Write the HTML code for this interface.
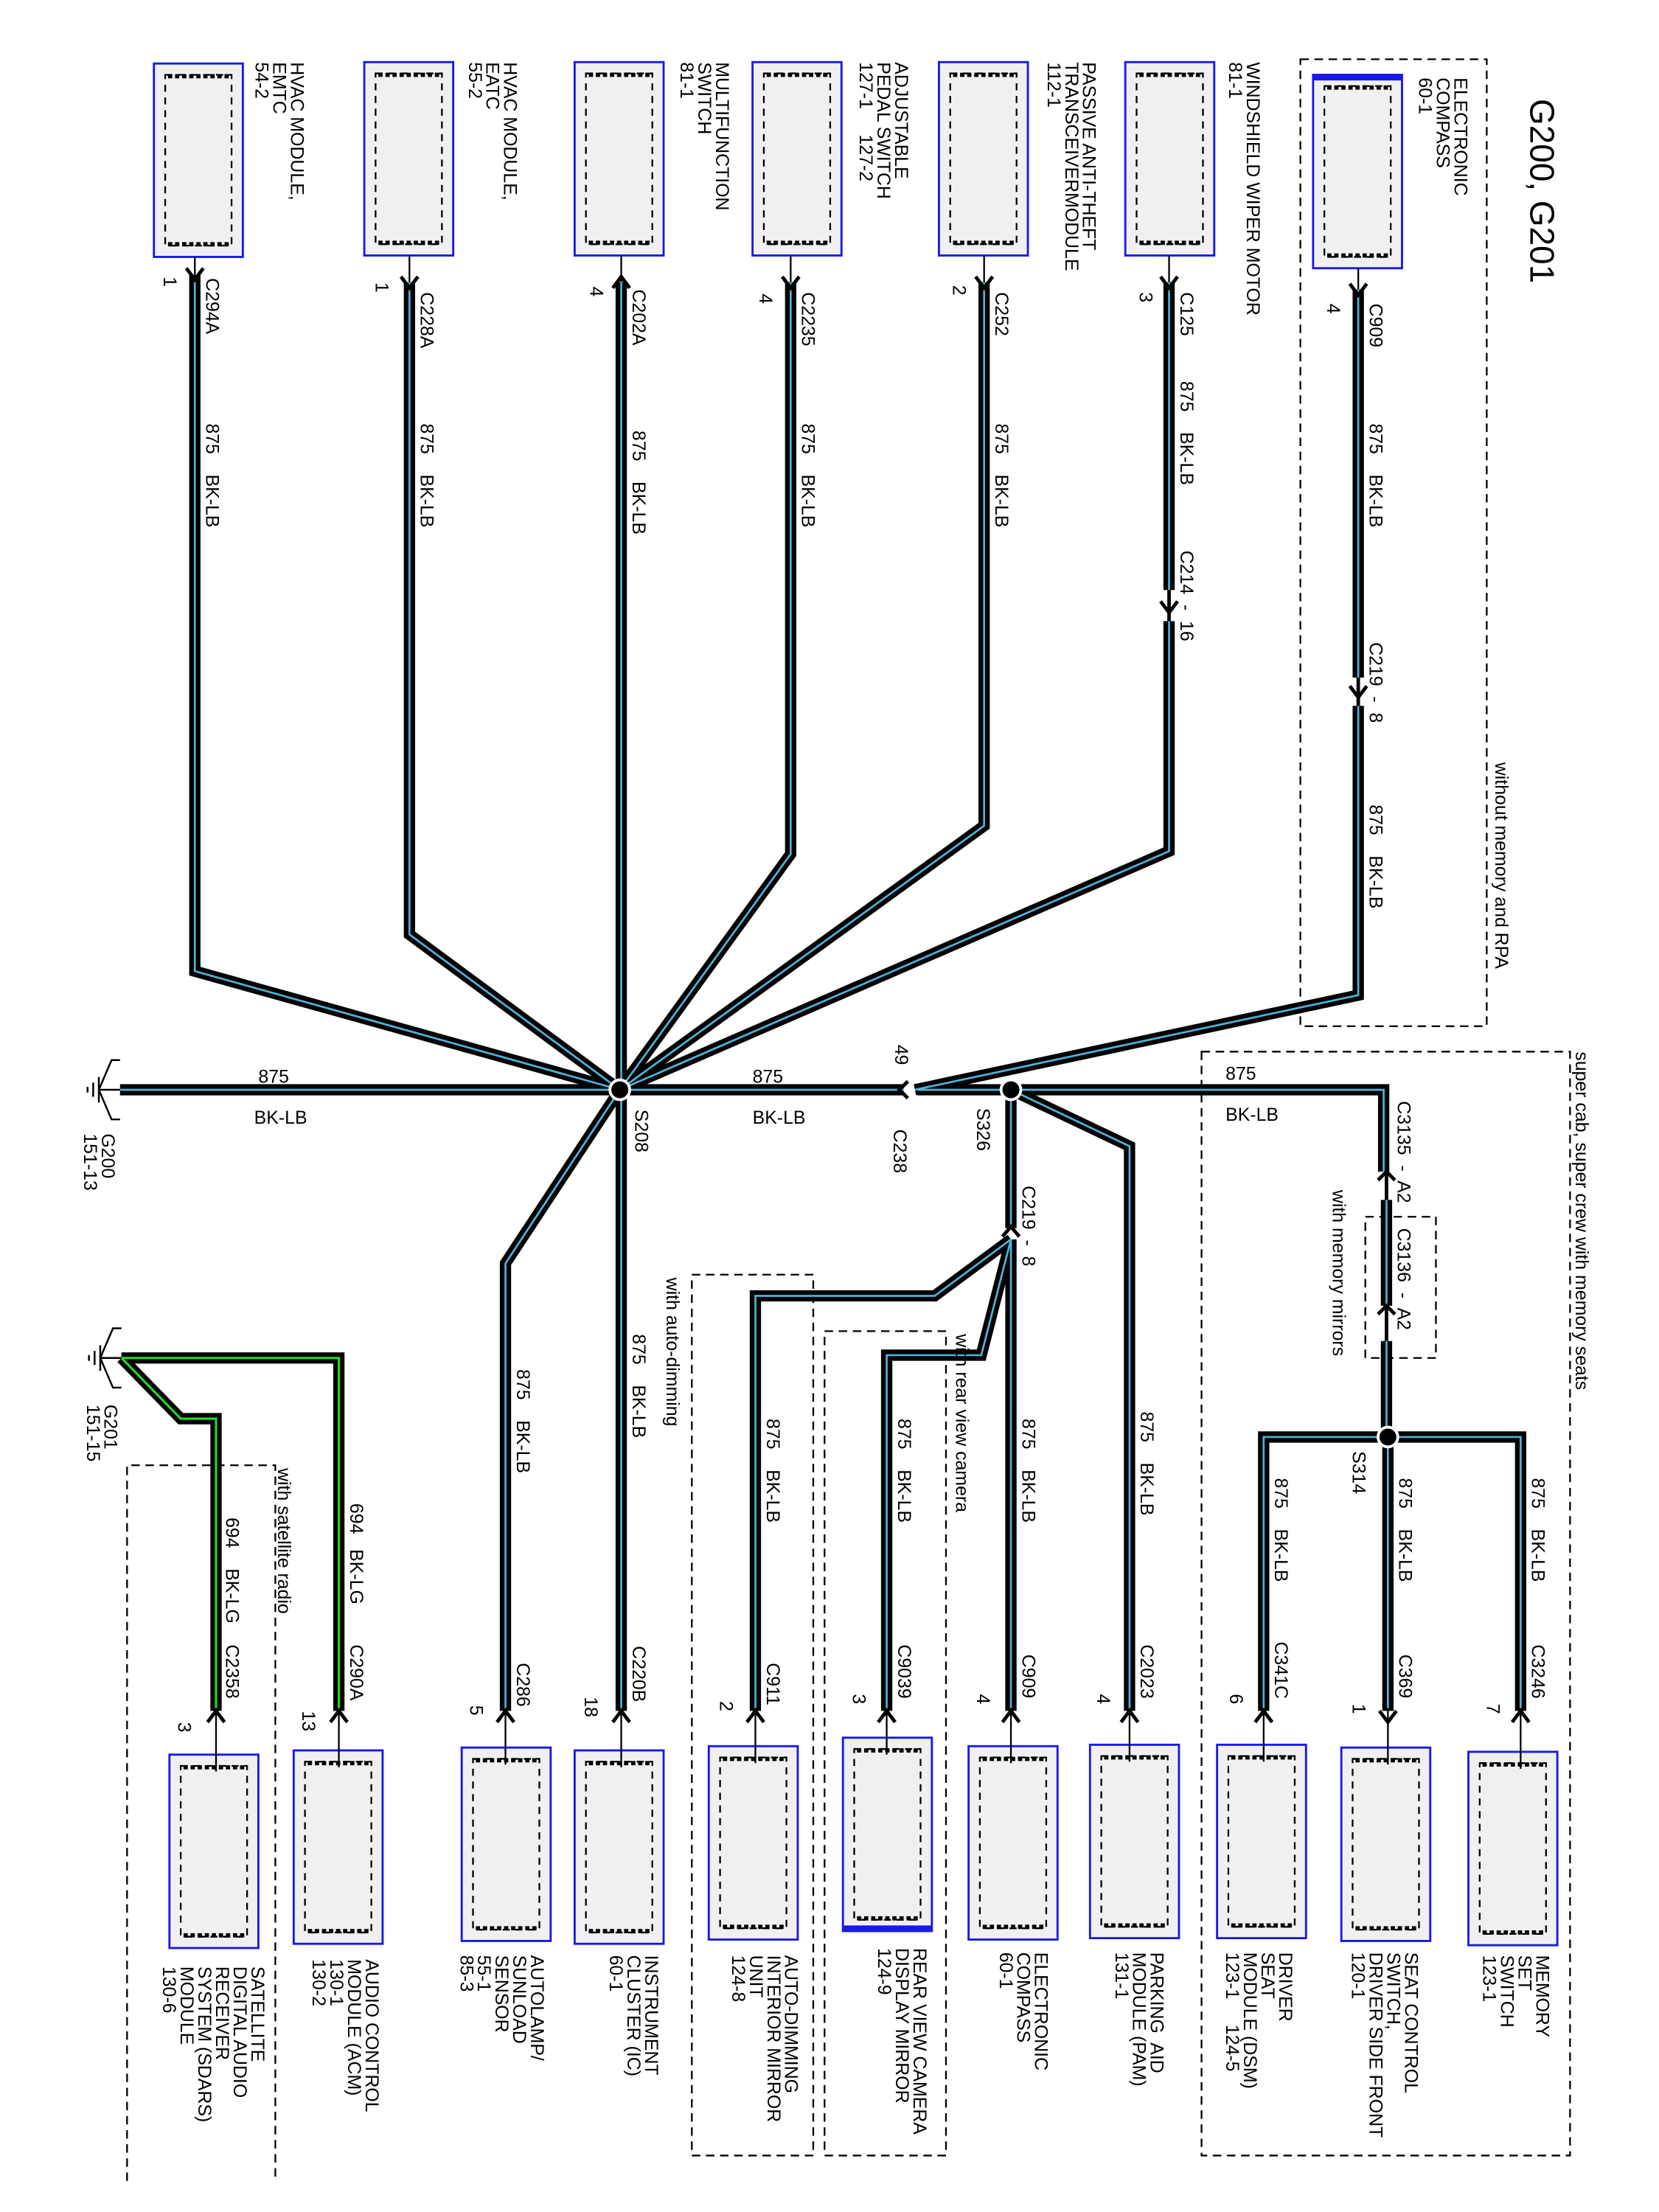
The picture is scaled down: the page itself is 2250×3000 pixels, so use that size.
<!DOCTYPE html>
<html><head><meta charset="utf-8"><style>
html,body{margin:0;padding:0;background:#fff;}
svg{display:block;}
text{font-family:"Liberation Sans",sans-serif;fill:#000;white-space:pre;}
</style></head><body>
<svg width="2250" height="3000" viewBox="0 0 1175 1567" preserveAspectRatio="none" xmlns="http://www.w3.org/2000/svg" xml:space="preserve">
<defs>
<g id="box"><rect x="0" y="0" width="63" height="137" fill="#f0f0f0" stroke="#1a1ae6" stroke-width="1.5"/><rect x="8" y="8" width="47" height="121" fill="none" stroke="#000" stroke-width="1.2" stroke-dasharray="5,4"/><path d="M10 9 H53 M10 128 H53" stroke="#000" stroke-width="3" stroke-dasharray="3,2"/></g>
</defs>
<rect width="1175" height="1567" fill="#fff"/>

<g fill="none" stroke="#000" stroke-width="1.2" stroke-dasharray="6,4">
<rect x="921" y="42" width="132" height="685"/>
<rect x="851" y="745" width="261" height="782"/>
<rect x="967" y="862" width="50" height="100"/>
<rect x="490" y="903" width="86" height="624"/>
<rect x="584" y="943" width="86" height="584"/>
<path d="M90 1545 V1038 H195 V1545"/>
</g>

<g fill="none" stroke-linejoin="miter">
<g stroke="#000" stroke-width="8">
<path d="M138 195 V688 L439 772"/>
<path d="M290 200 V662 L439 772"/>
<path d="M440 200 V772"/>
<path d="M560 200 V605 L439 772"/>
<path d="M697 200 V585 L439 772"/>
<path d="M828 200 V418 M828 440 V603 L439 772"/>
<path d="M962 205 V480 M962 500 V705 L648 772"/>
<path d="M85 772 H640"/>
<path d="M650 772 H980 V830"/>
<path d="M982 850 V925 M982 950 V1018"/>
<path d="M716 772 V870"/>
<path d="M716 772 L800 812 V1212"/>
<path d="M716 878 V1212"/>
<path d="M716 878 L662 918 H535 V1212"/>
<path d="M716 878 L695 960 H628 V1212"/>
<path d="M439 772 L358 895 V1212"/>
<path d="M440 772 V1212"/>
<path d="M983 1018 H895 V1212"/>
<path d="M983 1018 H1077 V1212"/>
<path d="M983 1018 V1212"/>
<path d="M86 962 H240 V1212"/>
<path d="M86 962 L128 1005 H153 V1212"/>
</g>
<g stroke="#4fb3d9" stroke-width="1.4">
<path d="M138 195 V688 L439 772"/>
<path d="M290 200 V662 L439 772"/>
<path d="M440 200 V772"/>
<path d="M560 200 V605 L439 772"/>
<path d="M697 200 V585 L439 772"/>
<path d="M828 200 V418 M828 440 V603 L439 772"/>
<path d="M962 205 V480 M962 500 V705 L648 772"/>
<path d="M85 772 H640"/>
<path d="M650 772 H980 V830"/>
<path d="M982 850 V925 M982 950 V1018"/>
<path d="M716 772 V870"/>
<path d="M716 772 L800 812 V1212"/>
<path d="M716 878 V1212"/>
<path d="M716 878 L662 918 H535 V1212"/>
<path d="M716 878 L695 960 H628 V1212"/>
<path d="M439 772 L358 895 V1212"/>
<path d="M440 772 V1212"/>
<path d="M983 1018 H895 V1212"/>
<path d="M983 1018 H1077 V1212"/>
<path d="M983 1018 V1212"/>
</g>
<g stroke="#22dd22" stroke-width="1.6">
<path d="M86 962 H240 V1212"/>
<path d="M86 962 L128 1005 H153 V1212"/>
</g>
</g>

<g fill="#000" stroke="#fff" stroke-width="2">
<circle cx="439" cy="772" r="7"/>
<circle cx="716" cy="772" r="7"/>
<circle cx="983" cy="1018" r="7"/>
</g>

<use href="#box" x="109" y="45"/>
<use href="#box" x="258" y="44"/>
<use href="#box" x="407" y="44"/>
<use href="#box" x="533" y="44"/>
<use href="#box" x="665" y="44"/>
<use href="#box" x="797" y="44"/>
<use href="#box" x="930" y="53"/>
<rect x="930" y="53" width="63" height="4" fill="#1a1ae6"/>

<g stroke="#000" stroke-width="1.2" fill="none">
<path d="M138 182 V200 M290 181 V200 M440 181 V200 M560 181 V200 M697 181 V200 M828 181 V200 M962 190 V205"/>
</g>
<g stroke="#000" stroke-width="2.5" fill="none">
<path d="M132 190 L138 198 L144 190"/>
<path d="M284 196 L290 204 L296 196"/>
<path d="M434 204 L440 196 L446 204"/>
<path d="M554 196 L560 204 L566 196"/>
<path d="M691 196 L697 204 L703 196"/>
<path d="M822 196 L828 204 L834 196"/>
<path d="M956 201 L962 209 L968 201"/>
<path d="M822 426 L828 434 L834 426 M828 418 V440"/>
<path d="M956 486 L962 494 L968 486 M962 480 V500"/>
<path d="M643 766 L637 772 L643 778"/>
<path d="M710 876 L716 869 L722 876"/>
<path d="M976 836 L982 830 L988 836 M982 830 V850"/>
<path d="M976 931 L982 925 L988 931 M982 925 V950"/>
</g>

<use href="#box" x="120" y="1243"/>
<use href="#box" x="208" y="1240"/>
<use href="#box" x="327" y="1238"/>
<use href="#box" x="407" y="1240"/>
<use href="#box" x="502" y="1237"/>
<use href="#box" x="597" y="1231"/>
<rect x="597" y="1364" width="63" height="4" fill="#1a1ae6"/>
<use href="#box" x="686" y="1237"/>
<use href="#box" x="772" y="1236"/>
<use href="#box" x="862" y="1236"/>
<use href="#box" x="950" y="1238"/>
<use href="#box" x="1040" y="1241"/>
<g stroke="#000" stroke-width="1.2" fill="none">
<path d="M153 1210 V1255 M240 1210 V1252 M358 1210 V1250 M440 1210 V1252 M535 1210 V1249 M628 1210 V1243 M716 1210 V1249 M800 1210 V1248 M895 1210 V1248 M983 1210 V1250 M1077 1210 V1253"/>
</g>
<g stroke="#000" stroke-width="2.5" fill="none">
<path d="M147 1220 L153 1212 L159 1220 M234 1220 L240 1212 L246 1220 M352 1220 L358 1212 L364 1220 M434 1220 L440 1212 L446 1220 M529 1220 L535 1212 L541 1220 M622 1220 L628 1212 L634 1220 M710 1220 L716 1212 L722 1220 M794 1220 L800 1212 L806 1220 M889 1220 L895 1212 L901 1220 M977 1212 L983 1220 L989 1212 M1071 1220 L1077 1212 L1083 1220"/>
</g>

<g stroke="#000" stroke-width="1.3" fill="none">
<path d="M85 772 H70 M70 763 V781 M66 767 V777 M62 770 V774 M85 751 H79 L70 772 L79 793 H85"/>
<path d="M86 962 H71 M71 953 V971 M67 957 V967 M63 960 V964 M86 941 H80 L71 962 L80 983 H86"/>
</g>

<text transform="translate(1084,70) rotate(90)" font-size="24">G200, G201</text>

<g font-size="13">
<text transform="translate(206,44) rotate(90)"><tspan x="0" y="0">HVAC MODULE,</tspan><tspan x="0" dy="12.5">EMTC</tspan><tspan x="0" dy="12.5">54-2</tspan></text>
<text transform="translate(357,44) rotate(90)"><tspan x="0" y="0">HVAC MODULE,</tspan><tspan x="0" dy="12.5">EATC</tspan><tspan x="0" dy="12.5">55-2</tspan></text>
<text transform="translate(507,44) rotate(90)"><tspan x="0" y="0">MULTIFUNCTION</tspan><tspan x="0" dy="12.5">SWITCH</tspan><tspan x="0" dy="12.5">81-1</tspan></text>
<text transform="translate(634,44) rotate(90)"><tspan x="0" y="0">ADJUSTABLE</tspan><tspan x="0" dy="12.5">PEDAL SWITCH</tspan><tspan x="0" dy="12.5">127-1     127-2</tspan></text>
<text transform="translate(767,44) rotate(90)"><tspan x="0" y="0">PASSIVE ANTI-THEFT</tspan><tspan x="0" dy="12.5">TRANSCEIVERMODULE</tspan><tspan x="0" dy="12.5">112-1</tspan></text>
<text transform="translate(883,44) rotate(90)"><tspan x="0" y="0">WINDSHIELD WIPER MOTOR</tspan><tspan x="0" dy="12.5">81-1</tspan></text>
<text transform="translate(1030,55) rotate(90)"><tspan x="0" y="0">ELECTRONIC</tspan><tspan x="0" dy="12.5">COMPASS</tspan><tspan x="0" dy="12.5">60-1</tspan></text>

<text transform="translate(146,197) rotate(90)">C294A</text>
<text transform="translate(146,300) rotate(90)">875    BK-LB</text>
<text transform="translate(298,207) rotate(90)">C228A</text>
<text transform="translate(298,300) rotate(90)">875    BK-LB</text>
<text transform="translate(448,205) rotate(90)">C202A</text>
<text transform="translate(448,305) rotate(90)">875    BK-LB</text>
<text transform="translate(568,207) rotate(90)">C2235</text>
<text transform="translate(568,300) rotate(90)">875    BK-LB</text>
<text transform="translate(705,207) rotate(90)">C252</text>
<text transform="translate(705,300) rotate(90)">875    BK-LB</text>
<text transform="translate(836,207) rotate(90)">C125</text>
<text transform="translate(836,270) rotate(90)">875    BK-LB</text>
<text transform="translate(836,390) rotate(90)">C214  -  16</text>
<text transform="translate(970,215) rotate(90)">C909</text>
<text transform="translate(970,300) rotate(90)">875    BK-LB</text>
<text transform="translate(970,455) rotate(90)">C219  -  8</text>
<text transform="translate(970,570) rotate(90)">875    BK-LB</text>
<text transform="translate(1059,540) rotate(90)">without memory and RPA</text>
<text transform="translate(1116,745) rotate(90)">super cab, super crew with memory seats</text>
<text transform="translate(944,843) rotate(90)">with memory mirrors</text>
<text transform="translate(990,780) rotate(90)">C3135  -  A2</text>
<text transform="translate(990,870) rotate(90)">C3136  -  A2</text>
<text transform="translate(724,840) rotate(90)">C219  -  8</text>
<text transform="translate(633,800) rotate(90)">C238</text>
<text transform="translate(634,740) rotate(90)">49</text>
<text transform="translate(450,786) rotate(90)">S208</text>
<text transform="translate(692,785) rotate(90)">S326</text>
<text transform="translate(958,1028) rotate(90)">S314</text>
<text transform="translate(472,905) rotate(90)">with auto-dimming</text>
<text transform="translate(677,945) rotate(90)">with rear view camera</text>
<text transform="translate(197,1040) rotate(90)">with satellite radio</text>
<text transform="translate(72,803) rotate(90)"><tspan x="0" y="0">G200</tspan><tspan x="0" dy="12.5">151-13</tspan></text>
<text transform="translate(74,995) rotate(90)"><tspan x="0" y="0">G201</tspan><tspan x="0" dy="12.5">151-15</tspan></text>

<text transform="translate(116,196) rotate(90)">1</text>
<text transform="translate(266,200) rotate(90)">1</text>
<text transform="translate(418,203) rotate(90)">4</text>
<text transform="translate(538,208) rotate(90)">4</text>
<text transform="translate(675,202) rotate(90)">2</text>
<text transform="translate(807,207) rotate(90)">3</text>
<text transform="translate(940,215) rotate(90)">4</text>

<text transform="translate(160,1075) rotate(90)">694    BK-LG</text>
<text transform="translate(160,1165) rotate(90)">C2358</text>
<text transform="translate(248,1065) rotate(90)">694   BK-LG</text>
<text transform="translate(248,1165) rotate(90)">C290A</text>
<text transform="translate(366,970) rotate(90)">875    BK-LB</text>
<text transform="translate(366,1178) rotate(90)">C286</text>
<text transform="translate(448,945) rotate(90)">875    BK-LB</text>
<text transform="translate(448,1166) rotate(90)">C220B</text>
<text transform="translate(543,1005) rotate(90)">875    BK-LB</text>
<text transform="translate(543,1178) rotate(90)">C911</text>
<text transform="translate(636,1005) rotate(90)">875    BK-LB</text>
<text transform="translate(636,1165) rotate(90)">C9039</text>
<text transform="translate(724,1005) rotate(90)">875    BK-LB</text>
<text transform="translate(724,1172) rotate(90)">C909</text>
<text transform="translate(808,1000) rotate(90)">875    BK-LB</text>
<text transform="translate(808,1165) rotate(90)">C2023</text>
<text transform="translate(903,1047) rotate(90)">875    BK-LB</text>
<text transform="translate(903,1163) rotate(90)">C341C</text>
<text transform="translate(991,1047) rotate(90)">875    BK-LB</text>
<text transform="translate(991,1172) rotate(90)">C369</text>
<text transform="translate(1085,1047) rotate(90)">875    BK-LB</text>
<text transform="translate(1085,1165) rotate(90)">C3246</text>

<text transform="translate(126,1220) rotate(90)">3</text>
<text transform="translate(214,1212) rotate(90)">13</text>
<text transform="translate(333,1208) rotate(90)">5</text>
<text transform="translate(414,1202) rotate(90)">18</text>
<text transform="translate(510,1205) rotate(90)">2</text>
<text transform="translate(604,1200) rotate(90)">3</text>
<text transform="translate(692,1200) rotate(90)">4</text>
<text transform="translate(777,1200) rotate(90)">4</text>
<text transform="translate(871,1200) rotate(90)">6</text>
<text transform="translate(958,1207) rotate(90)">1</text>
<text transform="translate(1053,1207) rotate(90)">7</text>

<text transform="translate(178,1393) rotate(90)"><tspan x="0" y="0">SATELLITE</tspan><tspan x="0" dy="12.5">DIGITAL AUDIO</tspan><tspan x="0" dy="12.5">RECEIVER</tspan><tspan x="0" dy="12.5">SYSTEM (SDARS)</tspan><tspan x="0" dy="12.5">MODULE</tspan><tspan x="0" dy="12.5">130-6</tspan></text>
<text transform="translate(259,1388) rotate(90)"><tspan x="0" y="0">AUDIO CONTROL</tspan><tspan x="0" dy="12.5">MODULE (ACM)</tspan><tspan x="0" dy="12.5">130-1</tspan><tspan x="0" dy="12.5">130-2</tspan></text>
<text transform="translate(376,1385) rotate(90)"><tspan x="0" y="0">AUTOLAMP/</tspan><tspan x="0" dy="12.5">SUNLOAD</tspan><tspan x="0" dy="12.5">SENSOR</tspan><tspan x="0" dy="12.5">55-1</tspan><tspan x="0" dy="12.5">85-3</tspan></text>
<text transform="translate(457,1385) rotate(90)"><tspan x="0" y="0">INSTRUMENT</tspan><tspan x="0" dy="12.5">CLUSTER (IC)</tspan><tspan x="0" dy="12.5">60-1</tspan></text>
<text transform="translate(556,1385) rotate(90)"><tspan x="0" y="0">AUTO-DIMMING</tspan><tspan x="0" dy="12.5">INTERIOR MIRROR</tspan><tspan x="0" dy="12.5">UNIT</tspan><tspan x="0" dy="12.5">124-8</tspan></text>
<text transform="translate(647,1380) rotate(90)"><tspan x="0" y="0">REAR VIEW CAMERA</tspan><tspan x="0" dy="12.5">DISPLAY MIRROR</tspan><tspan x="0" dy="12.5">124-9</tspan></text>
<text transform="translate(733,1383) rotate(90)"><tspan x="0" y="0">ELECTRONIC</tspan><tspan x="0" dy="12.5">COMPASS</tspan><tspan x="0" dy="12.5">60-1</tspan></text>
<text transform="translate(815,1383) rotate(90)"><tspan x="0" y="0">PARKING  AID</tspan><tspan x="0" dy="12.5">MODULE (PAM)</tspan><tspan x="0" dy="12.5">131-1</tspan></text>
<text transform="translate(906,1383) rotate(90)"><tspan x="0" y="0">DRIVER</tspan><tspan x="0" dy="12.5">SEAT</tspan><tspan x="0" dy="12.5">MODULE (DSM)</tspan><tspan x="0" dy="12.5">123-1     124-5</tspan></text>
<text transform="translate(995,1383) rotate(90)"><tspan x="0" y="0">SEAT CONTROL</tspan><tspan x="0" dy="12.5">SWITCH,</tspan><tspan x="0" dy="12.5">DRIVER SIDE FRONT</tspan><tspan x="0" dy="12.5">120-1</tspan></text>
<text transform="translate(1088,1385) rotate(90)"><tspan x="0" y="0">MEMORY</tspan><tspan x="0" dy="12.5">SET</tspan><tspan x="0" dy="12.5">SWITCH</tspan><tspan x="0" dy="12.5">123-1</tspan></text>

<text x="183" y="767">875</text>
<text x="180" y="796">BK-LB</text>
<text x="533" y="767">875</text>
<text x="533" y="796">BK-LB</text>
<text x="868" y="765">875</text>
<text x="868" y="794">BK-LB</text>
</g>
</svg>
</body></html>
